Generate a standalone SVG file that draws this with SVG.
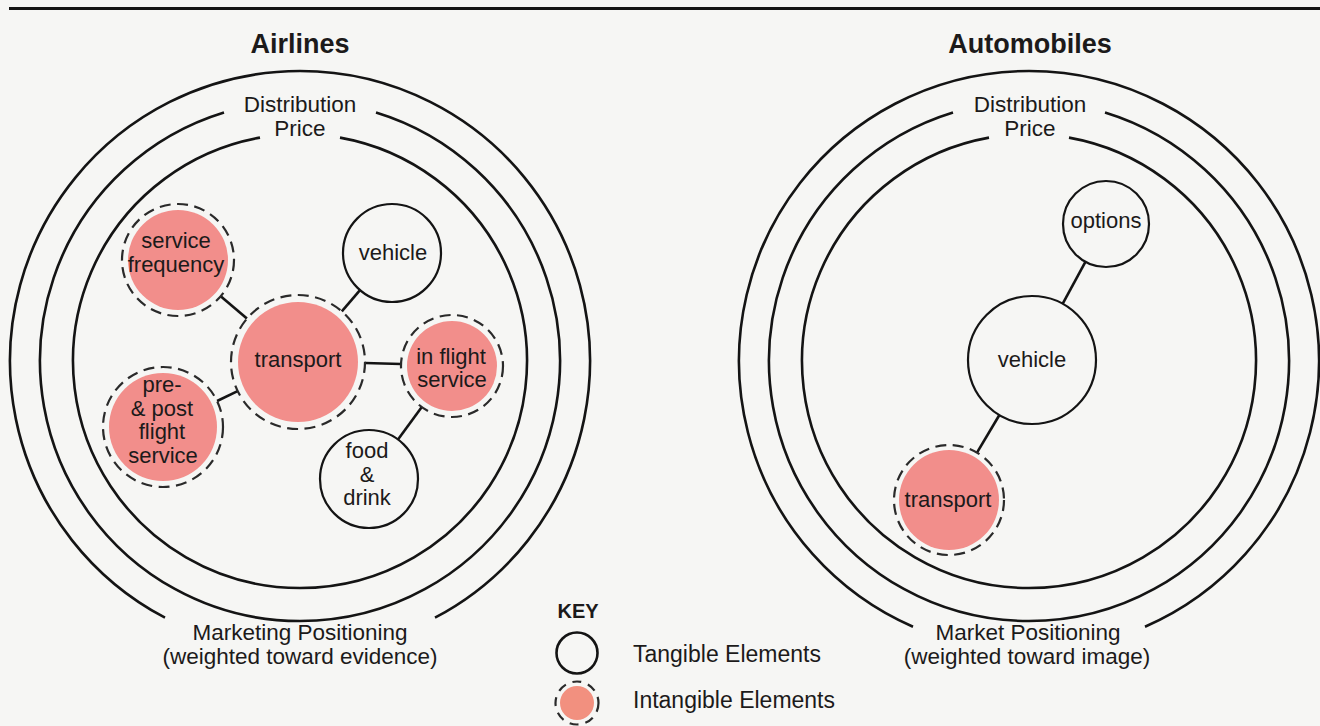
<svg xmlns="http://www.w3.org/2000/svg" width="1320" height="726" viewBox="0 0 1320 726">
<style>
text{font-family:"Liberation Sans",Arial,sans-serif;fill:#1c1a1a;font-size:22.5px;text-anchor:middle}
.title{font-weight:bold;font-size:27px}
.key{font-weight:bold;font-size:20px}
.lbl{text-anchor:start;font-size:23px}
.nd{font-size:22px}
.ring{fill:none;stroke:#141414;stroke-width:2.6}
.tan{fill:none;stroke:#141414;stroke-width:2.2}
.pink{fill:#f28e8b}
.dash{fill:none;stroke:#2a2a2a;stroke-width:2.2;stroke-dasharray:11 6.5}
.conn line{stroke:#141414;stroke-width:2.6}
</style>
<rect width="1320" height="726" fill="#f6f6f4"/>
<line x1="9" y1="8.5" x2="1320" y2="8.5" stroke="#141414" stroke-width="3"/>

<g id="airlines">
<text class="title" x="300" y="53">Airlines</text>
<path class="ring" d="M165,617.7 A290,290 0 1 1 435,617.7"/>
<path class="ring" d="M224,112.4 A260,260 0 1 0 376,112.4"/>
<path class="ring" d="M260,137.6 A227,227 0 1 0 340,137.6"/>
<text x="300" y="112">Distribution</text>
<text x="300" y="136">Price</text>
<text x="300" y="640">Marketing Positioning</text>
<text x="300" y="663.5">(weighted toward evidence)</text>
</g>

<g id="automobiles">
<text class="title" x="1030" y="53">Automobiles</text>
<path class="ring" d="M913,626.8 A290,290 0 1 1 1145,626.8"/>
<path class="ring" d="M953,112.4 A260,260 0 1 0 1105,112.4"/>
<path class="ring" d="M989,137.6 A227,227 0 1 0 1069,137.6"/>
<text x="1030" y="112">Distribution</text>
<text x="1030" y="136">Price</text>
<text x="1028" y="640">Market Positioning</text>
<text x="1027" y="663.5">(weighted toward image)</text>
</g>

<g id="connectors" class="conn">
<line x1="220.7" y1="296.3" x2="246.9" y2="318.6"/>
<line x1="360" y1="290.1" x2="341.8" y2="311.3"/>
<line x1="365" y1="363" x2="401" y2="364"/>
<line x1="217.1" y1="401" x2="237.6" y2="391.1"/>
<line x1="421.8" y1="407.1" x2="398" y2="439.5"/>
<line x1="1085.4" y1="261.8" x2="1062.6" y2="303.8"/>
<line x1="999.4" y1="415" x2="977" y2="452.7"/>
</g>

<g id="a-service-frequency">
<circle class="pink" cx="178" cy="260" r="50"/>
<circle class="dash" cx="178" cy="260" r="56"/>
<text class="nd" x="176" y="248">service</text>
<text class="nd" x="176" y="272">frequency</text>
</g>
<g id="a-vehicle">
<circle class="tan" cx="392" cy="253" r="49"/>
<text class="nd" x="393" y="260">vehicle</text>
</g>
<g id="a-transport">
<circle class="pink" cx="298" cy="362" r="60"/>
<circle class="dash" cx="298" cy="362" r="67"/>
<text class="nd" x="298" y="367">transport</text>
</g>
<g id="a-in-flight-service">
<circle class="pink" cx="452" cy="366" r="45"/>
<circle class="dash" cx="452" cy="366" r="51"/>
<text class="nd" x="451" y="364">in flight</text>
<text class="nd" x="452" y="387">service</text>
</g>
<g id="a-pre-post-flight-service">
<circle class="pink" cx="163" cy="427" r="54"/>
<circle class="dash" cx="163" cy="427" r="60"/>
<text class="nd" x="162" y="392">pre-</text>
<text class="nd" x="162" y="415.5">&amp; post</text>
<text class="nd" x="162" y="439">flight</text>
<text class="nd" x="163" y="462.5">service</text>
</g>
<g id="a-food-drink">
<circle class="tan" cx="369" cy="479" r="49"/>
<text class="nd" x="367" y="458">food</text>
<text class="nd" x="367" y="481.5">&amp;</text>
<text class="nd" x="367" y="505">drink</text>
</g>

<g id="b-options">
<circle class="tan" cx="1106" cy="224" r="43"/>
<text class="nd" x="1106" y="228">options</text>
</g>
<g id="b-vehicle">
<circle class="tan" cx="1032" cy="360" r="64"/>
<text class="nd" x="1032" y="367">vehicle</text>
</g>
<g id="b-transport">
<circle class="pink" cx="949" cy="500" r="50"/>
<circle class="dash" cx="949" cy="500" r="55"/>
<text class="nd" x="948" y="507">transport</text>
</g>

<g id="key">
<text class="key" x="578" y="618">KEY</text>
<circle cx="577" cy="653" r="20.5" fill="none" stroke="#141414" stroke-width="2.6"/>
<text class="lbl" x="633" y="662">Tangible Elements</text>
<circle cx="577" cy="703" r="17" fill="#f2907f"/>
<circle cx="577" cy="703" r="21.5" fill="none" stroke="#2a2a2a" stroke-width="2.2" stroke-dasharray="9 7"/>
<text class="lbl" x="633" y="708">Intangible Elements</text>
</g>
</svg>
